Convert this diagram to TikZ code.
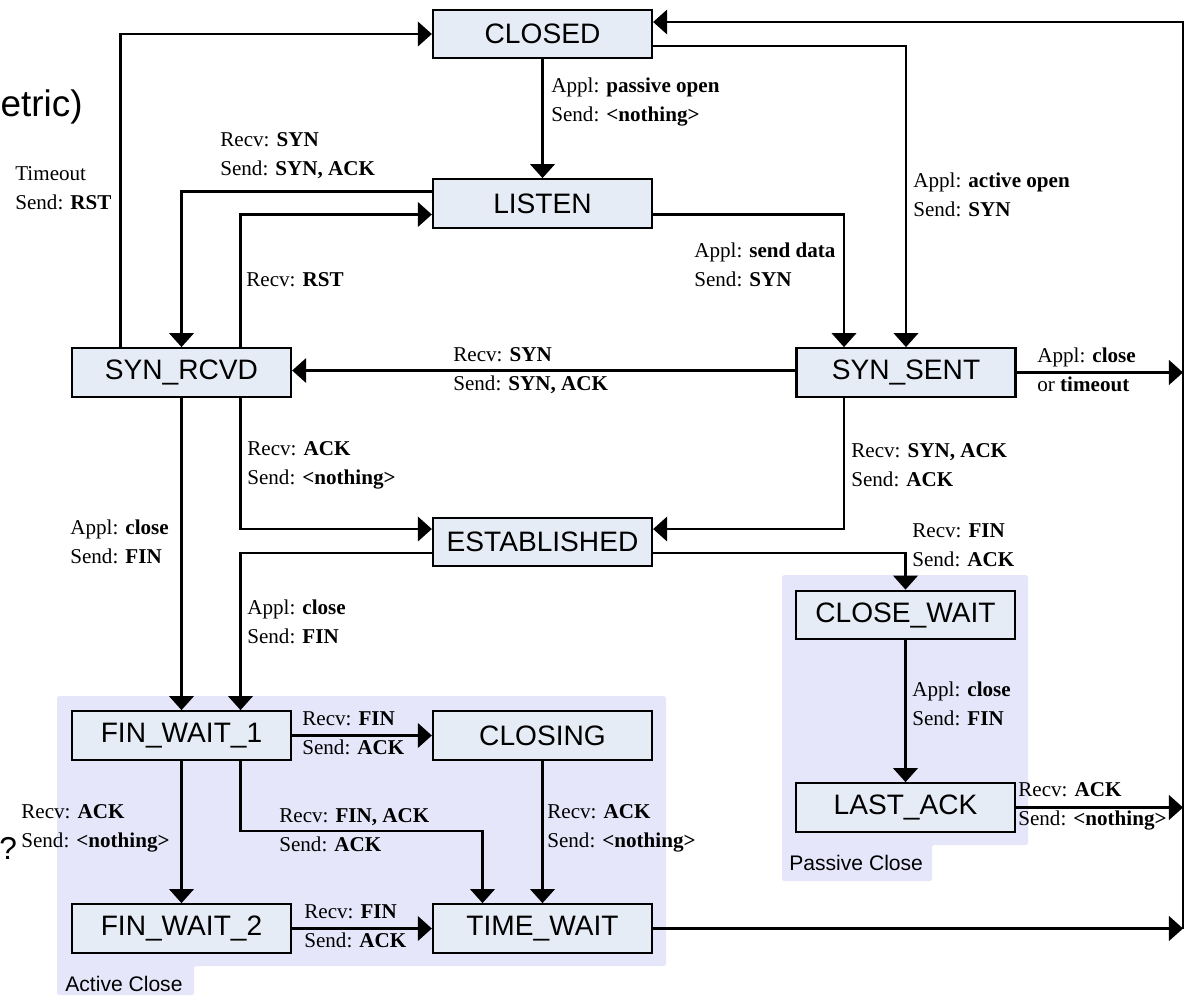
\documentclass[tikz,border=0pt]{standalone}
\usepackage{fontspec}
\setmainfont{Liberation Serif}
\setsansfont{Liberation Sans}
\usepackage{xcolor}
\usepackage{tikz}
\usetikzlibrary{arrows.meta, calc}

\definecolor{statefill}{RGB}{230,236,245}
\definecolor{regionfill}{RGB}{230,230,250}

\begin{document}
\begin{tikzpicture}[
        x=0.2mm, y=-0.2mm, % pixel-like units, y grows downwards
        >={Triangle[length=8pt, width=14pt]}, % Arrow style
        % Define node styles
        state/.style={draw, line width=1.3pt, fill=statefill, minimum width=4.38cm, minimum height=0.97cm, inner sep=0pt, font=\sffamily\fontsize{16}{19}\selectfont},
        trans/.style={anchor=west, align=left, inner sep=0pt, font=\fontsize{12}{16.5}\selectfont},
        flow/.style={line width=1.3pt, ->},
        region/.style={fill=regionfill, rounded corners=1pt},
        grouplabel/.style={anchor=west, inner sep=0pt, font=\sffamily\fontsize{12}{14}\selectfont}
    ]
    \useasboundingbox (0,0) rectangle (1185,995);

    % --- Shaded groups ---
    \fill[region] (57,696) -- (666,696) -- (666,966) -- (194,966) -- (194,995) -- (57,995) -- cycle;
    \fill[region] (782,575) -- (1028,575) -- (1028,845) -- (932,845) -- (932,881) -- (782,881) -- cycle;
    \node[grouplabel] (ActiveLbl) at (65,984) {Active Close};
    \node[grouplabel] (PassiveLbl) at (789,863) {Passive Close};

    % leftovers of the slide behind
    \node[anchor=east, inner sep=0pt, font=\sffamily\fontsize{21}{25}\selectfont] (SlideTitle) at (83,107) {etric)};
    \node[anchor=west, inner sep=0pt, font=\sffamily\fontsize{18}{22}\selectfont] (SlideMark) at (-1,848) {?};

    % --- States ---
    \node[state] (Closed) at (542.5,34) {CLOSED};
    \node[state] (Listen) at (542.5,203.5) {LISTEN};
    \node[state] (SynRcvd) at (181.5,372.5) {SYN\_RCVD};
    \node[state] (SynSent) at (906,372.5) {SYN\_SENT};
    \node[state] (Established) at (542.5,542) {ESTABLISHED};
    \node[state] (FinWaitOne) at (181.5,735.5) {FIN\_WAIT\_1};
    \node[state] (FinWaitTwo) at (181.5,928.5) {FIN\_WAIT\_2};
    \node[state] (Closing) at (542.5,735.5) {CLOSING};
    \node[state] (TimeWait) at (542.5,928.5) {TIME\_WAIT};
    \node[state] (CloseWait) at (905.5,615) {CLOSE\_WAIT};
    \node[state] (LastAck) at (905.5,807.5) {LAST\_ACK};

    % right hand rail back to CLOSED
    \coordinate (Rail) at (1183,22);

    % --- Transitions ---

    % opening
    \draw[flow] (Closed.south) -- (Listen.north);
    \draw[flow] ($(SynRcvd.north)+(-61,0)$) |- (Closed.west);
    \draw[flow] ($(Listen.west)+(0,-12)$) -| (SynRcvd.north);
    \draw[flow] ($(SynRcvd.north)+(59,0)$) |- ($(Listen.west)+(0,11)$);
    \draw[flow] ($(Closed.east)+(0,12)$) -| (SynSent.north);
    \draw[flow] ($(Listen.east)+(0,11)$) -| ($(SynSent.north)+(-62,0)$);
    \draw[flow] ($(SynSent.west)+(0,-2)$) -- ($(SynRcvd.east)+(0,-2)$);
    \draw[flow] (SynSent.east) -- (SynSent.east -| Rail);
    \draw[flow] ($(SynRcvd.south)+(59,0)$) |- ($(Established.west)+(0,-13)$);
    \draw[flow] ($(SynSent.south)+(-62,0)$) |- ($(Established.east)+(0,-13)$);

    % closing
    \draw[flow] ($(Established.east)+(0,11)$) -| (CloseWait.north);
    \draw[flow] ($(Established.west)+(0,11)$) -| ($(FinWaitOne.north)+(59,0)$);
    \draw[flow] (SynRcvd.south) -- (FinWaitOne.north);
    \draw[flow] (FinWaitOne.east) -- (Closing.west);
    \draw[flow] (FinWaitOne.south) -- (FinWaitTwo.north);
    \draw[flow] ($(FinWaitOne.south)+(59,0)$) |- ($(TimeWait.north)+(-60,-72)$) -- ($(TimeWait.north)+(-60,0)$);
    \draw[flow] (Closing.south) -- (TimeWait.north);
    \draw[flow] (FinWaitTwo.east) -- (TimeWait.west);
    \draw[flow] (TimeWait.east) -- (TimeWait.east -| Rail);
    \draw[flow] (CloseWait.south) -- (LastAck.north);
    \draw[flow] (LastAck.east) -- (LastAck.east -| Rail);
    \draw[flow] (TimeWait.east -| Rail) -- (Rail) -- ($(Closed.east)+(0,-12)$);

    % --- Transition labels ---
    \node[trans] (PassiveOpen) at (551,102) {Appl: \textbf{passive open}\\Send: \textbf{<nothing>}};
    \node[trans] (TimeoutRst) at (15,188) {Timeout\\Send: \textbf{RST}};
    \node[trans] (RecvSynA) at (220,156) {Recv: \textbf{SYN}\\Send: \textbf{SYN, ACK}};
    \node[trans] (RecvRst) at (246,280) {Recv: \textbf{RST}};
    \node[trans] (ActiveOpen) at (913,195) {Appl: \textbf{active open}\\Send: \textbf{SYN}};
    \node[trans] (SendData) at (694,265) {Appl: \textbf{send data}\\Send: \textbf{SYN}};
    \node[trans] (RecvSynB) at (453,371) {Recv: \textbf{SYN}\\Send: \textbf{SYN, ACK}};
    \node[trans] (CloseTimeout) at (1037,370) {Appl: \textbf{close}\\or \textbf{timeout}};
    \node[trans] (RecvAckA) at (247,465) {Recv: \textbf{ACK}\\Send: \textbf{<nothing>}};
    \node[trans] (RecvSynAck) at (851,465) {Recv: \textbf{SYN, ACK}\\Send: \textbf{ACK}};
    \node[trans] (RecvFinA) at (912,545) {Recv: \textbf{FIN}\\Send: \textbf{ACK}};
    \node[trans] (ApplCloseA) at (247,622) {Appl: \textbf{close}\\Send: \textbf{FIN}};
    \node[trans] (ApplCloseB) at (70,542) {Appl: \textbf{close}\\Send: \textbf{FIN}};
    \node[trans] (RecvFinB) at (302,733) {Recv: \textbf{FIN}\\Send: \textbf{ACK}};
    \node[trans] (RecvAckB) at (21,828) {Recv: \textbf{ACK}\\Send: \textbf{<nothing>}};
    \node[trans] (RecvFinAck) at (279,830) {Recv: \textbf{FIN, ACK}\\Send: \textbf{ACK}};
    \node[trans] (RecvAckC) at (547,828) {Recv: \textbf{ACK}\\Send: \textbf{<nothing>}};
    \node[trans] (RecvFinC) at (304,926) {Recv: \textbf{FIN}\\Send: \textbf{ACK}};
    \node[trans] (ApplCloseC) at (912,704) {Appl: \textbf{close}\\Send: \textbf{FIN}};
    \node[trans] (RecvAckD) at (1018,806) {Recv: \textbf{ACK}\\Send: \textbf{<nothing>}};

\end{tikzpicture}
\end{document}
